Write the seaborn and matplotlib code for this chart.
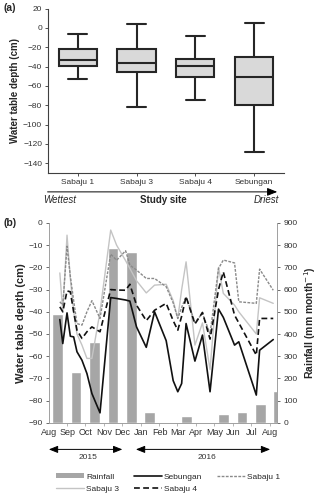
import pandas as pd
import matplotlib
matplotlib.use("Agg")
import matplotlib.pyplot as plt
from matplotlib.lines import Line2D
from matplotlib.patches import Patch
import numpy as np
import seaborn as sns

# ---- panel (a): five-number summaries ----
sites = ["Sabaju 1", "Sabaju 3", "Sabaju 4", "Sebungan"]
box_min = [-53, -82, -75, -128]
box_q1 = [-39, -46, -51, -80]
box_med = [-33, -36, -39, -51]
box_q3 = [-22, -22, -32, -30]
box_max = [-6, 4, -8, 5]

# ---- panel (b): monthly rainfall ----
months = ["Aug", "Sep", "Oct", "Nov", "Dec", "Jan", "Feb", "Mar",
          "Apr", "May", "Jun", "Jul", "Aug"]
rainfall = [488, 227, 362, 785, 767, 50, 0, 29, 0, 39, 50, 86, 144]

# sampling dates (months since 1 Aug 2015) and water table depth (cm)
t_obs = [0.59, 0.75, 0.98, 1.16, 1.34, 1.52, 1.79, 2.06, 2.33, 2.77,
         3.35, 3.67, 4.16, 4.39, 4.75, 5.28, 5.73, 6.36, 6.74, 6.99,
         7.2, 7.44, 7.92, 8.33, 8.74, 9.2, 9.46, 10.07, 10.3, 11.25,
         11.43, 12.17]
sebungan = [-43.5, -54.3, -40.5, -51, -51.3, -58, -61.8, -67.8, -76.8, -85.5,
            -33.6, -34, -34.7, -35.2, -46.8, -56, -40, -53, -71, -76,
            -72.3, -45.3, -62.2, -50.5, -76, -38.8, -42.5, -55, -53.5, -77.5,
            -57.3, -52.5]
sabaju1 = [-35.5, -37, -10.5, -24, -35, -45.3, -46, -40, -35, -43,
           -14, -16.8, -12.5, -19, -21.2, -25, -25, -28.7, -36, -43,
           -38, -33.2, -44.8, -40.7, -50, -20.5, -16.7, -18, -35.5, -36.2,
           -20.8, -30.3]
sabaju3 = [-22.5, -40, -5.5, -25, -40, -50, -55, -61, -61, -40,
           -3.2, -10, -17, -20.5, -26, -31.5, -28, -27.6, -35, -43,
           -30, -17.5, -55, -45, -66, -20, -31.7, -37, -40, -50,
           -33.7, -36.2]
sabaju4 = [-37.8, -40, -30.6, -31, -40, -48.3, -52, -49, -46.8, -49,
           -30, -30.2, -30.3, -27.6, -37, -44, -39.3, -36.2, -44, -48.3,
           -42, -33.2, -45.5, -40.3, -52.3, -30, -22, -41.5, -45, -59.5,
           -43, -43]

sns.set_theme(style="ticks")
plt.rcParams["font.family"] = ["Liberation Sans", "DejaVu Sans"]
plt.rcParams["axes.linewidth"] = 0.8

fig = plt.figure(figsize=(3.2, 5.01), dpi=100)
ax_a = fig.add_axes([0.151, 0.655, 0.735, 0.328])
ax_b = fig.add_axes([0.153, 0.156, 0.713, 0.399])

tick_col = "#333333"

# ---- (a) ----
box_df = pd.DataFrame({
    "site": np.repeat(sites, 5),
    "depth": np.ravel(np.column_stack([box_min, box_q1, box_med, box_q3, box_max])),
})
sns.boxplot(data=box_df, x="site", y="depth", order=sites, whis=(0, 100),
            width=0.65, color="#d9d9d9", linecolor="#262626", linewidth=1.5,
            saturation=1, ax=ax_a)
ax_a.set_xlim(-0.5, 3.5)
ax_a.set_ylim(-150, 20)
ax_a.set_yticks(np.arange(-140, 21, 20))
ax_a.set_xlabel("")
ax_a.set_ylabel("Water table depth (cm)", fontsize=7, fontweight="bold", labelpad=2)
ax_a.tick_params(labelsize=6, colors=tick_col, length=2.5, width=0.6, pad=2)
for s in ["top", "right"]:
    ax_a.spines[s].set_visible(False)
for s in ["left", "bottom"]:
    ax_a.spines[s].set_color("#404040")

fig.text(0.012, 0.985, "(a)", fontsize=7.5, fontweight="bold", va="center")
fig.text(0.51, 0.6, "Study site", fontsize=7, fontweight="bold", ha="center", va="center")
fig.text(0.135, 0.6, "Wettest", fontsize=7, style="italic", ha="left", va="center")
fig.text(0.872, 0.6, "Driest", fontsize=7, style="italic", ha="right", va="center")
ax_a.annotate("", xy=(0.875, 0.617), xytext=(0.14, 0.617), xycoords="figure fraction",
              arrowprops=dict(arrowstyle="-|>,head_length=0.5,head_width=0.2",
                              color="black", lw=0.7))

# ---- (b) ----
ax_r = ax_b.twinx()
bar_x = np.arange(len(months)) + 0.47
ax_r.bar(bar_x, rainfall, width=0.58, color="#a6a6a6", zorder=1)
ax_r.set_ylim(0, 900)
ax_r.set_yticks(np.arange(0, 901, 100))
ax_r.set_ylabel("Rainfall (mm month$^{-1}$)", fontsize=7.5, fontweight="bold", labelpad=3)

ax_b.set_zorder(ax_r.get_zorder() + 1)
ax_b.patch.set_visible(False)

series = [
    (sabaju3, "#c4c4c4", "-", 1.0),
    (sabaju1, "#8a8a8a", (0, (2, 1)), 1.0),
    (sabaju4, "#111111", (0, (3.5, 2)), 1.2),
    (sebungan, "#111111", "-", 1.2),
]
for vals, col, ls, lw in series:
    sns.lineplot(x=t_obs, y=vals, color=col, linestyle=ls, linewidth=lw, ax=ax_b)

ax_b.set_xlim(0.12, 12.38)
ax_b.set_ylim(-90, 0)
ax_b.set_yticks(np.arange(-90, 1, 10))
ax_b.set_ylabel("Water table depth (cm)", fontsize=8, fontweight="bold", labelpad=2)
ax_b.set_xticks(np.arange(0, 13))
ax_b.set_xticklabels(months)
ax_b.set_xticks(np.arange(0, 12) + 0.97, minor=True)
ax_b.tick_params(axis="x", which="major", length=0, labelsize=6.5, colors=tick_col, pad=4)
ax_b.tick_params(axis="x", which="minor", length=2.5, width=0.5, color="#999999")
ax_b.tick_params(axis="y", labelsize=6, colors=tick_col, length=2.5, width=0.5, pad=2)
ax_r.tick_params(axis="y", labelsize=6, colors=tick_col, length=2.5, width=0.5, pad=2)
for a in (ax_b, ax_r):
    a.spines["top"].set_visible(False)
    for s in ["left", "right", "bottom"]:
        a.spines[s].set_color("#a0a0a0")
        a.spines[s].set_linewidth(0.6)

fig.text(0.012, 0.555, "(b)", fontsize=7.5, fontweight="bold", va="center")

arrow_kw = dict(arrowstyle="<|-|>,head_length=0.45,head_width=0.18", color="black", lw=0.7)
ax_b.annotate("", xy=(0.391, 0.103), xytext=(0.144, 0.103), xycoords="figure fraction",
              arrowprops=arrow_kw)
ax_b.annotate("", xy=(0.853, 0.103), xytext=(0.416, 0.103), xycoords="figure fraction",
              arrowprops=arrow_kw)
fig.text(0.275, 0.086, "2015", fontsize=6, color=tick_col, ha="center", va="center")
fig.text(0.647, 0.086, "2016", fontsize=6, color=tick_col, ha="center", va="center")

handles = [
    Patch(facecolor="#a6a6a6", edgecolor="none", label="Rainfall"),
    Line2D([], [], color="#c4c4c4", lw=1.0, label="Sabaju 3"),
    Line2D([], [], color="#111111", lw=1.2, label="Sebungan"),
    Line2D([], [], color="#111111", lw=1.2, ls=(0, (3.5, 2)), label="Sabaju 4"),
    Line2D([], [], color="#8a8a8a", lw=1.0, ls=(0, (2, 1)), label="Sabaju 1"),
]
fig.legend(handles=handles, ncol=3, loc="upper left", bbox_to_anchor=(0.162, 0.064),
           frameon=False, fontsize=6, handlelength=3.3, handleheight=0.6,
           columnspacing=1.8, handletextpad=0.3, labelspacing=0.6, borderpad=0)

fig.savefig("out.png", dpi=100)
